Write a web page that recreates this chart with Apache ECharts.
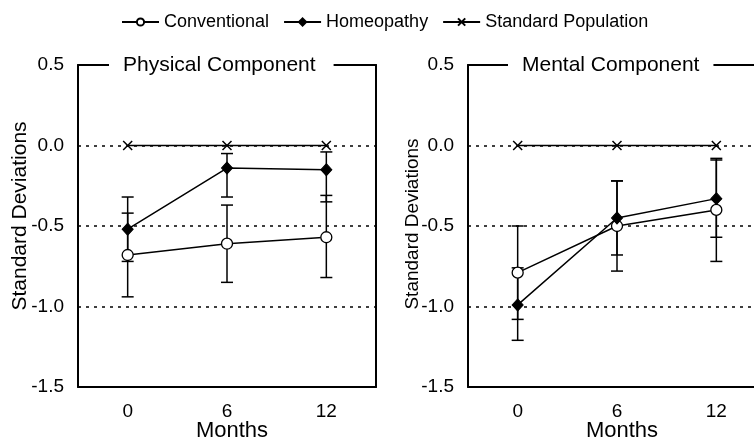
<!DOCTYPE html>
<html>
<head>
<meta charset="utf-8">
<script src="https://cdn.jsdelivr.net/npm/echarts@6/dist/echarts.min.js"></script>
<style>html,body{margin:0;padding:0;background:#fff;}#c{width:754px;height:441px;}</style>
</head>
<body>
<div id="c"></div>
<script>
const months = [0, 6, 12];
const xTickLabels = ['0', '6', '12'];
const yTickLabels = ['0.5', '0.0', '-0.5', '-1.0', '-1.5'];
const seriesNames = ['Conventional', 'Homeopathy', 'Standard Population'];
const panelTitles = ['Physical Component', 'Mental Component'];

const physConv = [-0.68, -0.61, -0.57];
const physConvLow = [-0.94, -0.85, -0.82];
const physConvHigh = [-0.42, -0.37, -0.31];
const physHomeo = [-0.52, -0.14, -0.15];
const physHomeoLow = [-0.72, -0.32, -0.35];
const physHomeoHigh = [-0.32, -0.05, -0.04];
const physStd = [0, 0, 0];

const mentConv = [-0.79, -0.50, -0.40];
const mentConvLow = [-1.08, -0.78, -0.72];
const mentConvHigh = [-0.50, -0.22, -0.08];
const mentHomeo = [-0.99, -0.45, -0.33];
const mentHomeoLow = [-1.21, -0.68, -0.57];
const mentHomeoHigh = [-0.76, -0.22, -0.09];
const mentStd = [0, 0, 0];

const FONT = '"Liberation Sans", Arial, Helvetica, sans-serif';
const chart = echarts.init(document.getElementById('c'), null, {renderer: 'canvas'});

function pts(vals) { return months.map((m, i) => [m, vals[i]]); }
function bars(lo, hi) { return months.map((m, i) => [m, lo[i], hi[i]]); }

function errRender(params, api) {
  const x = api.value(0);
  const p1 = api.coord([x, api.value(1)]);
  const p2 = api.coord([x, api.value(2)]);
  const w = 6;
  const st = {stroke: '#000', lineWidth: 1.5};
  return {type: 'group', children: [
    {type: 'line', shape: {x1: p1[0], y1: p1[1], x2: p2[0], y2: p2[1]}, style: st},
    {type: 'line', shape: {x1: p1[0] - w, y1: p1[1], x2: p1[0] + w, y2: p1[1]}, style: st},
    {type: 'line', shape: {x1: p2[0] - w, y1: p2[1], x2: p2[0] + w, y2: p2[1]}, style: st}
  ]};
}

const xSym = 'path://M0,0L10,10M10,0L0,10';
const lineStyle = {color: '#000', width: 1.5};

function panelSeries(g, conv, convLo, convHi, homeo, homeoLo, homeoHi, std) {
  return [
    {type: 'custom', name: 'errC' + g, xAxisIndex: g * 2, yAxisIndex: g * 2, renderItem: errRender, data: bars(convLo, convHi), z: 1, silent: true},
    {type: 'custom', name: 'errH' + g, xAxisIndex: g * 2, yAxisIndex: g * 2, renderItem: errRender, data: bars(homeoLo, homeoHi), z: 1, silent: true},
    {type: 'line', name: seriesNames[2], xAxisIndex: g * 2, yAxisIndex: g * 2, data: pts(std),
      symbol: xSym, symbolSize: 9, lineStyle: lineStyle,
      itemStyle: {color: '#000', borderColor: '#000', borderWidth: 1.5}, z: 3},
    {type: 'line', name: seriesNames[0], xAxisIndex: g * 2, yAxisIndex: g * 2, data: pts(conv),
      symbol: 'circle', symbolSize: 11, lineStyle: lineStyle,
      itemStyle: {color: '#fff', borderColor: '#000', borderWidth: 1.3}, z: 4},
    {type: 'line', name: seriesNames[1], xAxisIndex: g * 2, yAxisIndex: g * 2, data: pts(homeo),
      symbol: 'diamond', symbolSize: [11, 12], lineStyle: lineStyle,
      itemStyle: {color: '#000', borderColor: '#000', borderWidth: 1}, z: 5}
  ];
}

const grids = [
  {left: 78, top: 65, width: 298, height: 322, outerBoundsMode: 'none', containLabel: false},
  {left: 468, top: 65, width: 298, height: 322, outerBoundsMode: 'none', containLabel: false}
];

const xAxes = [], yAxes = [];
[0, 1].forEach(g => {
  xAxes.push({
    type: 'value', gridIndex: g, min: -3, max: 15, interval: 3,
    name: 'Months', nameLocation: 'middle', nameGap: 33, nameMoveOverlap: false,
    nameTextStyle: {fontFamily: FONT, fontSize: 22, color: '#000', padding: [0, 0, 0, 10]},
    axisLine: {show: true, onZero: false, lineStyle: {color: '#000', width: 2}},
    axisTick: {show: false},
    axisLabel: {fontFamily: FONT, fontSize: 19, color: '#000', margin: 15,
      formatter: v => { const i = months.indexOf(v); return i >= 0 ? xTickLabels[i] : ''; }},
    splitLine: {show: false}
  });
  xAxes.push({
    type: 'value', gridIndex: g, min: -3, max: 15, position: 'top',
    axisLine: {show: true, onZero: false, lineStyle: {color: '#000', width: 2}},
    axisTick: {show: false}, axisLabel: {show: false}, splitLine: {show: false}
  });
  yAxes.push({
    type: 'value', gridIndex: g, min: -1.5, max: 0.5, interval: 0.5,
    name: 'Standard Deviations', nameLocation: 'middle', nameGap: g === 0 ? 47 : 46, nameMoveOverlap: false,
    nameTextStyle: {fontFamily: FONT, fontSize: g === 0 ? 21 : 19, color: '#000',
      padding: g === 0 ? [0, 0, 0, 20] : [0, 0, 0, 4]},
    axisLine: {show: true, onZero: false, lineStyle: {color: '#000', width: 2}},
    axisTick: {show: false},
    axisLabel: {fontFamily: FONT, fontSize: 19, color: '#000', margin: 14,
      formatter: v => yTickLabels[Math.round((0.5 - v) / 0.5)]},
    splitLine: {show: true, lineStyle: {color: '#000', width: 1.5, type: [3, 5]}}
  });
  yAxes.push({
    type: 'value', gridIndex: g, min: -1.5, max: 0.5, position: 'right',
    axisLine: {show: true, onZero: false, lineStyle: {color: '#000', width: 2}},
    axisTick: {show: false}, axisLabel: {show: false}, splitLine: {show: false}
  });
});

const option = {
  animation: false,
  backgroundColor: '#fff',
  title: [
    {text: panelTitles[0], left: 109, top: 51, padding: [2, 18, 2, 14], backgroundColor: '#fff',
      textStyle: {fontFamily: FONT, fontSize: 21, fontWeight: 'normal', color: '#000', lineHeight: 24}},
    {text: panelTitles[1], left: 508, top: 51, padding: [2, 14, 2, 14], backgroundColor: '#fff',
      textStyle: {fontFamily: FONT, fontSize: 21, fontWeight: 'normal', color: '#000', lineHeight: 24}}
  ],
  legend: {
    data: seriesNames, top: 8, left: 116, itemWidth: 37, itemHeight: 9, itemGap: 14,
    textStyle: {fontFamily: FONT, fontSize: 18, color: '#000'},
    selectedMode: false
  },
  grid: grids,
  xAxis: xAxes,
  yAxis: yAxes,
  series: [].concat(
    panelSeries(0, physConv, physConvLow, physConvHigh, physHomeo, physHomeoLow, physHomeoHigh, physStd),
    panelSeries(1, mentConv, mentConvLow, mentConvHigh, mentHomeo, mentHomeoLow, mentHomeoHigh, mentStd)
  ).map(s => Object.assign(s, {emphasis: {disabled: true}}))
};
chart.setOption(option);
</script>
</body>
</html>
